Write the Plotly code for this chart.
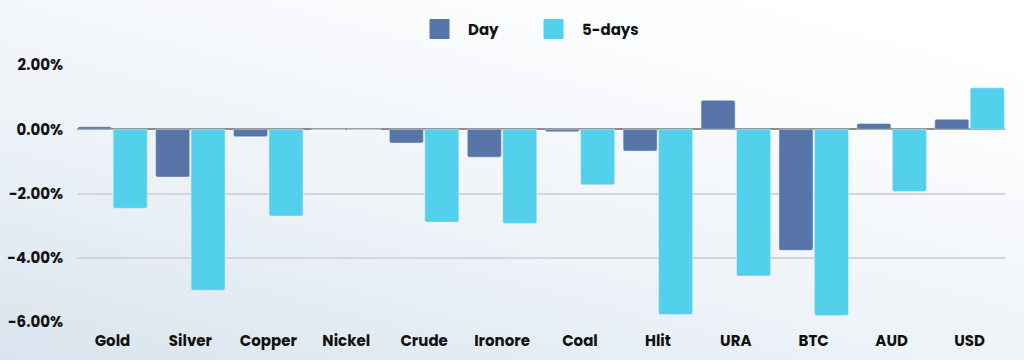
import base64
import plotly.graph_objects as go

categories = ["Gold", "Silver", "Copper", "Nickel", "Crude", "Ironore", "Coal", "Hlit", "URA", "BTC", "AUD", "USD"]
day_values = [0.08, -1.49, -0.23, 0.0, -0.43, -0.87, -0.08, -0.68, 0.90, -3.77, 0.18, 0.31]
five_day_values = [-2.46, -5.01, -2.70, 0.0, -2.89, -2.93, -1.73, -5.77, -4.57, -5.80, -1.94, 1.29]
series_names = ["Day", "5-days"]
series_colors = ["#5875aa", "#53d0eb"]
y_tick_values = [2, 0, -2, -4, -6]
y_tick_labels = ["2.00%", "0.00%", "-2.00%", "-4.00%", "-6.00%"]

FONT = "Poppins, Inter, 'Open Sans', sans-serif"

W, H = 1024, 360
ML, MR, MT, MB = 77, 19, 65, 38
PW, PH = W - ML - MR, H - MT - MB


def px_x(p):
    return (p - ML) / PW


def px_y(p):
    return (H - MB - p) / PH


svg = f'''<svg xmlns="http://www.w3.org/2000/svg" width="{W}" height="{H}" viewBox="0 0 {W} {H}" preserveAspectRatio="none">
<defs><linearGradient id="g" x1="0" y1="1" x2="0.75" y2="0">
<stop offset="0" stop-color="#d9e4ee"/><stop offset="0.45" stop-color="#eef3f8"/><stop offset="1" stop-color="#ffffff"/>
</linearGradient></defs><rect width="{W}" height="{H}" fill="url(#g)"/></svg>'''
svg_uri = "data:image/svg+xml;base64," + base64.b64encode(svg.encode()).decode()

fig = go.Figure()
for name, vals, col in zip(series_names, [day_values, five_day_values], series_colors):
    fig.add_trace(go.Bar(name=name, x=categories, y=vals, marker_color=col,
                         hovertemplate="%{x}: %{y:.2f}%<extra>" + name + "</extra>"))

# custom legend (large square swatches)
legend_swatch_left = [430, 544]
legend_text_left = [466, 580]
shapes = []
annotations = []
for name, col, sx, tx in zip(series_names, series_colors, legend_swatch_left, legend_text_left):
    shapes.append(dict(type="rect", xref="paper", yref="paper",
                       x0=px_x(sx), x1=px_x(sx + 19), y0=px_y(38.5), y1=px_y(19.5),
                       fillcolor=col, line=dict(color=col, width=1), layer="above"))
    annotations.append(dict(text=name, xref="paper", yref="paper", x=px_x(tx), y=px_y(29),
                            xanchor="left", yanchor="middle", showarrow=False,
                            font=dict(family=FONT, size=15, color="#111111", weight="bold")))

fig.update_layout(
    width=W, height=H,
    margin=dict(l=ML, r=MR, t=MT, b=MB, pad=0),
    paper_bgcolor="#ffffff",
    plot_bgcolor="rgba(0,0,0,0)",
    barmode="group",
    bargap=0.09,
    bargroupgap=0.04,
    barcornerradius=2,
    font=dict(family=FONT, size=14, color="#111111"),
    showlegend=False,
    shapes=shapes,
    annotations=annotations,
    images=[dict(source=svg_uri, xref="paper", yref="paper",
                 x=-ML / PW, y=1 + MT / PH, sizex=W / PW, sizey=H / PH,
                 xanchor="left", yanchor="top", sizing="stretch", layer="below")],
)
fig.update_xaxes(range=[-0.455, 11.455], showgrid=False, zeroline=False, showline=False,
                 automargin=False, ticks="",
                 tickfont=dict(family=FONT, size=15, color="#111111", weight="bold"),
                 ticklabelstandoff=8)
fig.update_yaxes(range=[-6, 2], tickvals=y_tick_values, ticktext=y_tick_labels,
                 showgrid=True, gridcolor="#d2d5da", gridwidth=1.5,
                 zeroline=True, zerolinecolor="#8c8c8c", zerolinewidth=1.5,
                 showline=False, ticks="", ticklabelstandoff=13, automargin=False,
                 tickfont=dict(family=FONT, size=15, color="#111111", weight="bold"))

fig.write_html("out.html", config={"displayModeBar": False},
               post_script="document.body.style.margin='0';document.body.style.overflow='hidden';")
